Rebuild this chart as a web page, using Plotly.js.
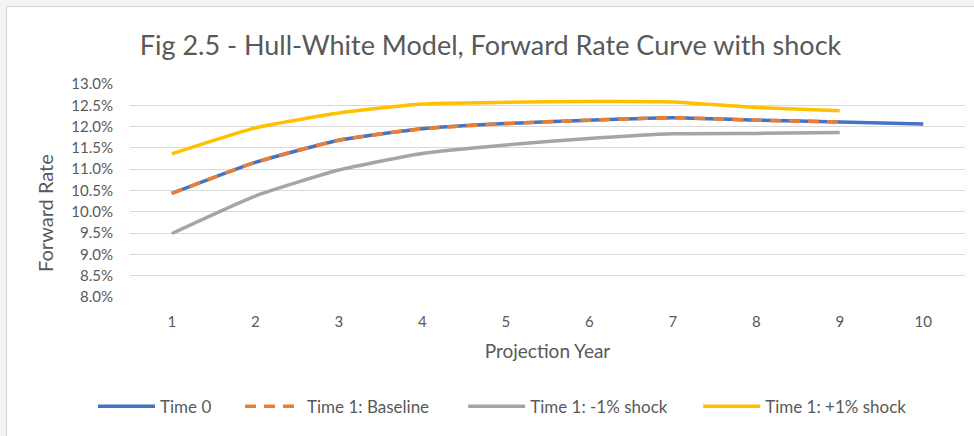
<!DOCTYPE html>
<html>
<head>
<meta charset="utf-8">
<script src="https://cdn.plot.ly/plotly-3.0.1.min.js"></script>
<style>
  html, body { margin: 0; padding: 0; background: #f4f4f4; width: 974px; height: 436px; overflow: hidden; }
  #frame { position: absolute; left: 6px; top: 6px; width: 968px; height: 430px; background: #ffffff; border-left: 1px solid #d6d6d6; border-top: 1px solid #d6d6d6; }
  #chart { position: absolute; left: 0; top: 0; width: 967px; height: 429px; }
</style>
</head>
<body>
<div id="frame"><div id="chart"></div></div>
<script>
// Data (forward rates in %)
const years = [1, 2, 3, 4, 5, 6, 7, 8, 9, 10];
const time0 = [10.43, 11.16, 11.68, 11.95, 12.07, 12.15, 12.21, 12.15, 12.11, 12.06];
const baseline = [10.43, 11.16, 11.68, 11.95, 12.07, 12.15, 12.21, 12.15, 12.11];
const minusShock = [9.49, 10.37, 10.98, 11.37, 11.57, 11.72, 11.83, 11.84, 11.86];
const plusShock = [11.36, 11.97, 12.32, 12.53, 12.57, 12.59, 12.58, 12.45, 12.37];
const seriesNames = ["Time 0", "Time 1: Baseline", "Time 1: -1% shock", "Time 1: +1% shock"];
const yTicks = [8.0, 8.5, 9.0, 9.5, 10.0, 10.5, 11.0, 11.5, 12.0, 12.5, 13.0];

const FONT = "Lato, 'Open Sans', sans-serif";
const TXT = "#595959";
const lineShape = { shape: "spline", smoothing: 0.5 };

const traces = [
  { x: years, y: time0, name: seriesNames[0], mode: "lines", legend: "legend",
    line: Object.assign({ color: "#4472C4", width: 3.5 }, lineShape) },
  { x: years.slice(0, baseline.length), y: baseline, name: seriesNames[1], mode: "lines", legend: "legend2",
    line: Object.assign({ color: "#ED7D31", width: 3.5, dash: "11px,8px" }, lineShape) },
  { x: years.slice(0, minusShock.length), y: minusShock, name: seriesNames[2], mode: "lines", legend: "legend3",
    line: Object.assign({ color: "#A5A5A5", width: 3.5 }, lineShape) },
  { x: years.slice(0, plusShock.length), y: plusShock, name: seriesNames[3], mode: "lines", legend: "legend4",
    line: Object.assign({ color: "#FFC000", width: 3.5 }, lineShape) }
];

function legendAt(xFrac) {
  return {
    orientation: "h", x: xFrac, xanchor: "left", y: -0.515, yanchor: "middle",
    font: { size: 17, color: TXT }, itemwidth: 57, bgcolor: "rgba(0,0,0,0)"
  };
}

const layout = {
  width: 967, height: 429,
  margin: { l: 123, r: 9, t: 77, b: 139 },
  paper_bgcolor: "#ffffff", plot_bgcolor: "#ffffff",
  font: { family: FONT, color: TXT, size: 15 },
  title: { text: "Fig 2.5 - Hull-White Model, Forward Rate Curve with shock",
           font: { family: FONT, size: 27, color: TXT }, x: 0.5, xanchor: "center",
           y: 0.91, yanchor: "middle" },
  xaxis: {
    range: [0.5, 10.5], tickmode: "array", tickvals: years, ticktext: years.map(String),
    showgrid: false, zeroline: false, showline: false, ticks: "", ticklabelstandoff: 14,
    tickfont: { size: 15, color: TXT },
    title: { text: "Projection Year", font: { size: 19, color: TXT }, standoff: 15 }
  },
  yaxis: {
    range: [8.0, 13.0], tickmode: "array", tickvals: yTicks,
    ticktext: yTicks.map(v => v.toFixed(1) + "%"),
    showgrid: true, gridcolor: "#d9d9d9", gridwidth: 1, zeroline: false, showline: false,
    ticks: "", ticklabelstandoff: 16,
    tickfont: { size: 15, color: TXT }
  },
  annotations: [{
    text: "Forward Rate", textangle: -90, showarrow: false,
    xref: "paper", yref: "paper", x: -0.102, y: 0.394, xanchor: "center", yanchor: "middle",
    font: { size: 20, color: TXT }
  }],
  showlegend: true,
  legend: legendAt(-0.0443),
  legend2: legendAt(0.1318),
  legend3: legendAt(0.399),
  legend4: legendAt(0.6805)
};

Plotly.newPlot("chart", traces, layout, { displayModeBar: false, staticPlot: true });
</script>
</body>
</html>
